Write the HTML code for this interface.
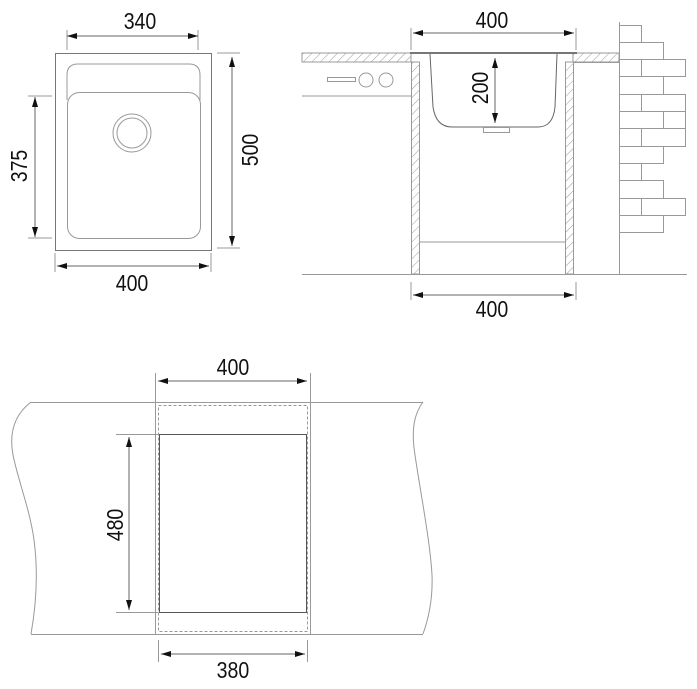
<!DOCTYPE html>
<html><head><meta charset="utf-8"><style>
html,body{margin:0;padding:0;background:#fff;}
svg{display:block;}
text{font-family:"Liberation Sans",sans-serif;font-size:23px;fill:#111;}
</style></head><body>
<svg width="697" height="689" viewBox="0 0 697 689" xmlns="http://www.w3.org/2000/svg">
<defs>
<pattern id="h" width="6" height="6" patternUnits="userSpaceOnUse" patternTransform="rotate(45)">
<line x1="0" y1="0" x2="0" y2="6" stroke="#999" stroke-width="1"/>
</pattern>
<marker id="a" markerWidth="10" markerHeight="6" refX="10" refY="3" orient="auto-start-reverse" markerUnits="userSpaceOnUse">
<path d="M0,0 L10,3 L0,6 z" fill="#111"/>
</marker>
</defs>
<g fill="none" stroke="#999" stroke-width="1">
<rect x="55.5" y="53.5" width="156" height="197" stroke="#777"/>
<path d="M67,100 L67,75 Q67,64 78,64 L189,64 Q200,64 200,75 L200,100"/>
<rect x="67.5" y="92.5" width="133" height="146" rx="12"/>
<circle cx="132" cy="133" r="19"/>
<circle cx="132" cy="133" r="15"/>
<line x1="67" y1="30" x2="67" y2="50"/><line x1="198" y1="30" x2="198" y2="50"/>
<line x1="28" y1="96" x2="52" y2="96"/><line x1="28" y1="238" x2="52" y2="238"/>
<line x1="217" y1="53" x2="240" y2="53"/><line x1="217" y1="248" x2="240" y2="248"/>
<line x1="55" y1="253" x2="55" y2="272"/><line x1="211" y1="253" x2="211" y2="272"/>

<rect x="302" y="53" width="109" height="9" fill="url(#h)"/>
<rect x="573" y="53" width="46" height="9" fill="url(#h)"/>
<line x1="302" y1="96" x2="411" y2="96"/>
<rect x="327.5" y="77.5" width="28" height="4"/>
<circle cx="366" cy="80" r="7"/><circle cx="386" cy="80" r="7"/>
<rect x="411.5" y="62" width="8" height="212" fill="url(#h)"/>
<rect x="565.5" y="62" width="8" height="212" fill="url(#h)"/>
<line x1="419" y1="242" x2="565" y2="242"/>
<line x1="302" y1="274.5" x2="687" y2="274.5"/>
<line x1="573" y1="62.5" x2="619" y2="62.5"/>
<line x1="410" y1="53" x2="577" y2="53" stroke="#777" stroke-width="2"/>
<path d="M430,54 L433,107 Q436,127 452,127 L538,127 Q553,127 555,107 L557,54" stroke="#666"/>
<rect x="483.5" y="127.5" width="26" height="5"/>
<line x1="411" y1="28" x2="411" y2="50"/><line x1="576" y1="28" x2="576" y2="50"/>
<line x1="411" y1="282" x2="411" y2="300"/><line x1="576" y1="282" x2="576" y2="300"/>
<line x1="619.5" y1="22" x2="619.5" y2="274"/>
<rect x="619.5" y="25.5" width="22" height="17"/>
<rect x="619.5" y="42.5" width="44" height="17"/>
<rect x="619.5" y="59.5" width="22" height="17"/><rect x="641.5" y="59.5" width="44" height="17"/>
<rect x="619.5" y="76.5" width="44" height="18"/>
<rect x="619.5" y="94.5" width="22" height="17"/><rect x="641.5" y="94.5" width="44" height="17"/>
<rect x="619.5" y="111.5" width="44" height="17"/><rect x="663.5" y="111.5" width="22" height="17"/>
<rect x="619.5" y="128.5" width="22" height="18"/><rect x="641.5" y="128.5" width="44" height="18"/>
<rect x="619.5" y="146.5" width="44" height="17"/>
<rect x="619.5" y="163.5" width="22" height="17"/>
<rect x="619.5" y="180.5" width="44" height="18"/>
<rect x="619.5" y="198.5" width="22" height="17"/><rect x="641.5" y="198.5" width="44" height="17"/>
<rect x="619.5" y="215.5" width="44" height="17"/>

<path d="M31,402 C18,412 8,428 13,455 C18,480 30,510 34,540 C38,570 37,600 31,634"/>
<path d="M423,402 C414,414 411,430 415,455 C420,490 430,540 432,575 C433,600 428,620 423,634"/>
<line x1="31" y1="402.5" x2="423" y2="402.5"/>
<line x1="31" y1="634.5" x2="423" y2="634.5"/>
<line x1="155.5" y1="373" x2="155.5" y2="634"/>
<line x1="310.5" y1="373" x2="310.5" y2="634"/>
<rect x="158.5" y="405.5" width="149" height="226" stroke-dasharray="3,2"/>
<rect x="159.5" y="434.5" width="147" height="178" stroke="#555"/>
<line x1="116" y1="434.5" x2="158" y2="434.5"/>
<line x1="116" y1="612.5" x2="158" y2="612.5"/>
<line x1="158.5" y1="640" x2="158.5" y2="662"/>
<line x1="307.5" y1="640" x2="307.5" y2="662"/>
</g>
<g stroke="#666" stroke-width="1" marker-start="url(#a)" marker-end="url(#a)">
<line x1="67" y1="36" x2="198" y2="36"/>
<line x1="35" y1="97" x2="35" y2="237"/>
<line x1="232" y1="57" x2="232" y2="246"/>
<line x1="57" y1="266" x2="209" y2="266"/>
<line x1="413" y1="33" x2="574" y2="33"/>
<line x1="495" y1="58" x2="495" y2="123"/>
<line x1="413" y1="295" x2="574" y2="295"/>
<line x1="158" y1="381" x2="307" y2="381"/>
<line x1="129" y1="437" x2="129" y2="610"/>
<line x1="161" y1="654" x2="305" y2="654"/>
</g>
<g text-anchor="middle">
<text x="140" y="29" transform="translate(140 0) scale(0.85 1) translate(-140 0)">340</text>
<text x="132" y="291" transform="translate(132 0) scale(0.85 1) translate(-132 0)">400</text>
<text transform="translate(27 166) rotate(-90) scale(0.85 1)">375</text>
<text transform="translate(258 150) rotate(-90) scale(0.85 1)">500</text>
<text x="492" y="28" transform="translate(492 0) scale(0.85 1) translate(-492 0)">400</text>
<text transform="translate(488 88) rotate(-90) scale(0.85 1)">200</text>
<text x="492" y="317" transform="translate(492 0) scale(0.85 1) translate(-492 0)">400</text>
<text x="233" y="375" transform="translate(233 0) scale(0.85 1) translate(-233 0)">400</text>
<text transform="translate(123 525) rotate(-90) scale(0.85 1)">480</text>
<text x="233" y="678" transform="translate(233 0) scale(0.85 1) translate(-233 0)">380</text>
</g>
</svg>
</body></html>
